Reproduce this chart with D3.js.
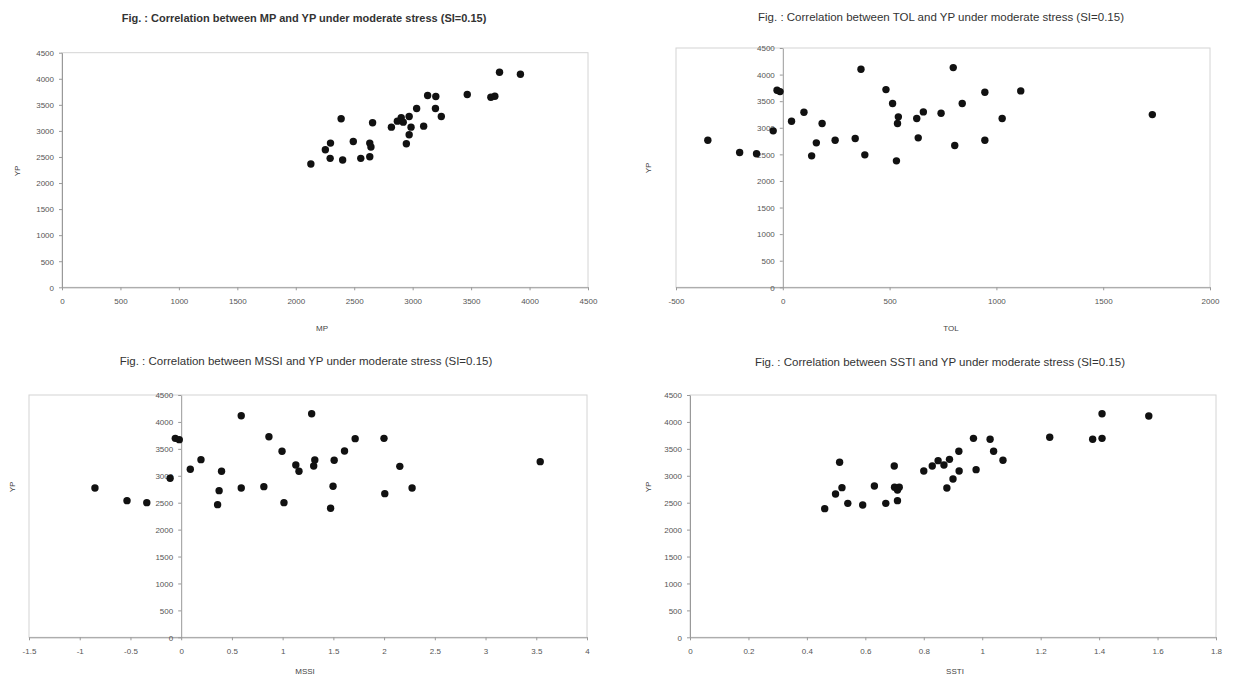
<!DOCTYPE html>
<html>
<head>
<meta charset="utf-8">
<script src="https://cdn.jsdelivr.net/npm/d3@7"></script>
<style>
  body { margin: 0; background: #fff; }
  svg { display: block; font-family: "Liberation Sans", Arial, sans-serif; }
  .tick text { fill: #555; font-size: 8px; }
  .domain { stroke: #999; }
  .tick line { stroke: #999; }
</style>
</head>
<body>
<svg id="chart" width="1238" height="675"></svg>
<script>
// YP values are shared by all four panels, the x values differ per index
var ypTicks = [0, 500, 1000, 1500, 2000, 2500, 3000, 3500, 4000, 4500];

var mpTicks = [0, 500, 1000, 1500, 2000, 2500, 3000, 3500, 4000, 4500];
var mpValues = [3743, 3922, 3467, 3128, 3198, 3669, 3703, 3034, 3195, 3245, 2388, 2657, 2970, 2902, 2869, 2818,
  2919, 2986, 3094, 2970, 2946, 2492, 2297, 2253, 2633, 2643, 2294, 2401, 2556, 2633, 2129];
var mpYp = [4124, 4086, 3697, 3678, 3659, 3646, 3665, 3429, 3429, 3276, 3232, 3155, 3276, 3251, 3187, 3072,
  3168, 3072, 3091, 2926, 2754, 2798, 2766, 2639, 2766, 2690, 2473, 2441, 2473, 2505, 2365];

var tolTicks = [-500, 0, 500, 1000, 1500, 2000];
var tolValues = [-351, -202, -123, -45, -27, -13, 41, 99, 135, 157, 184, 245, 339, 366, 384, 483,
  514, 532, 541, 537, 627, 634, 658, 741, 798, 805, 840, 946, 946, 1027, 1114, 1730];
var tolYp = [2766, 2535, 2510, 2942, 3705, 3680, 3123, 3292, 2472, 2716, 3079, 2766, 2798, 4100, 2491, 3718,
  3455, 2378, 3205, 3079, 3173, 2810, 3298, 3273, 4131, 2666, 3455, 3668, 2766, 3173, 3693, 3248];

var mssiTicks = [-1.5, -1, -0.5, 0, 0.5, 1, 1.5, 2, 2.5, 3, 3.5, 4];
var mssiValues = [-0.85, -0.534, -0.339, -0.109, -0.058, -0.019, 0.09, 0.195, 0.359, 0.374, 0.398, 0.592, 0.592, 0.815,
  0.865, 0.994, 1.013, 1.13, 1.161, 1.286, 1.306, 1.317, 1.473, 1.497, 1.508, 1.61, 1.715, 1.999, 2.007, 2.155, 2.276, 3.539];
var mssiYp = [2773, 2538, 2501, 2953, 3695, 3671, 3120, 3299, 2464, 2724, 3083, 2773, 4116, 2798,
  3726, 3454, 2501, 3200, 3083, 4153, 3182, 3293, 2396, 2804, 3287, 3460, 3689, 3695, 2668, 3175, 2773, 3262];

var sstiTicks = [0, 0.2, 0.4, 0.6, 0.8, 1, 1.2, 1.4, 1.6, 1.8];
var sstiValues = [0.461, 0.498, 0.512, 0.52, 0.54, 0.591, 0.631, 0.67, 0.699, 0.7, 0.716, 0.71, 0.71, 0.8, 0.829, 0.849,
  0.869, 0.888, 0.879, 0.9, 0.921, 0.92, 0.97, 0.979, 1.027, 1.039, 1.071, 1.231, 1.378, 1.41, 1.41, 1.57];
var sstiYp = [2389, 2662, 3250, 2779, 2488, 2457, 2810, 2488, 3182, 2786, 2786, 2736, 2538, 3089, 3182, 3281,
  3200, 3305, 2773, 2940, 3089, 3454, 3695, 3114, 3677, 3454, 3287, 3714, 3677, 3695, 4153, 4110];

var svg = d3.select('#chart');
var plain = function(d) { return String(d); };

function drawPanel(p) {
  var x = d3.scaleLinear().domain(d3.extent(p.xTicks)).range([p.left, p.right]);
  var y = d3.scaleLinear().domain(d3.extent(ypTicks)).range([p.bottom, p.top]);
  var g = svg.append('g');

  // plot area frame
  g.append('rect')
    .attr('x', p.left).attr('y', p.top)
    .attr('width', p.right - p.left).attr('height', p.bottom - p.top)
    .attr('fill', 'none').attr('stroke', '#d4d4d4');

  g.append('g')
    .attr('transform', 'translate(0,' + y(0) + ')')
    .call(d3.axisBottom(x).tickValues(p.xTicks).tickSize(3).tickSizeOuter(0).tickFormat(plain))
    .selectAll('.tick text').attr('dy', '1.3em');

  g.append('g')
    .attr('transform', 'translate(' + x(0) + ',0)')
    .call(d3.axisLeft(y).tickValues(ypTicks).tickSize(3).tickSizeOuter(0).tickPadding(5).tickFormat(plain))
    .selectAll('.tick text').attr('dy', '0.35em');

  g.append('g').selectAll('circle')
    .data(p.xs.map(function(v, i) { return [v, p.ys[i]]; }))
    .join('circle')
    .attr('cx', function(d) { return x(d[0]); })
    .attr('cy', function(d) { return y(d[1]); })
    .attr('r', 3.7)
    .attr('fill', '#111');

  g.append('text')
    .attr('x', p.titleX).attr('y', p.titleY)
    .attr('text-anchor', 'middle')
    .attr('font-size', p.bold ? 11 : 11.5)
    .attr('font-weight', p.bold ? 'bold' : 'normal')
    .attr('fill', '#333')
    .text(p.title);

  g.append('text')
    .attr('x', p.xLabelX).attr('y', p.xLabelY)
    .attr('text-anchor', 'middle')
    .attr('font-size', 8).attr('fill', '#444')
    .text(p.xLabel);

  g.append('text')
    .attr('transform', 'translate(' + p.yLabelX + ',' + p.yLabelY + ') rotate(-90)')
    .attr('text-anchor', 'middle')
    .attr('font-size', 8).attr('fill', '#444')
    .text('YP');
}

drawPanel({
  xs: mpValues, ys: mpYp, xTicks: mpTicks,
  left: 62, right: 588, top: 52.7, bottom: 287.3,
  title: 'Fig. : Correlation between MP and YP under moderate stress (SI=0.15)', bold: true,
  titleX: 304, titleY: 22, xLabel: 'MP', xLabelX: 322, xLabelY: 331, yLabelX: 20, yLabelY: 171
});

drawPanel({
  xs: tolValues, ys: tolYp, xTicks: tolTicks,
  left: 676, right: 1210, top: 48, bottom: 287.3,
  title: 'Fig. : Correlation between TOL and YP under moderate stress (SI=0.15)',
  titleX: 941, titleY: 21, xLabel: 'TOL', xLabelX: 951, xLabelY: 331, yLabelX: 651, yLabelY: 168
});

drawPanel({
  xs: mssiValues, ys: mssiYp, xTicks: mssiTicks,
  left: 29, right: 587, top: 395, bottom: 637.3,
  title: 'Fig. : Correlation between MSSI and YP under moderate stress (SI=0.15)',
  titleX: 306, titleY: 365, xLabel: 'MSSI', xLabelX: 305, xLabelY: 674, yLabelX: 15, yLabelY: 487
});

drawPanel({
  xs: sstiValues, ys: sstiYp, xTicks: sstiTicks,
  left: 690, right: 1216, top: 395, bottom: 637.3,
  title: 'Fig. : Correlation between SSTI and YP under moderate stress (SI=0.15)',
  titleX: 940, titleY: 366, xLabel: 'SSTI', xLabelX: 955, xLabelY: 674, yLabelX: 651, yLabelY: 487
});
</script>
</body>
</html>
